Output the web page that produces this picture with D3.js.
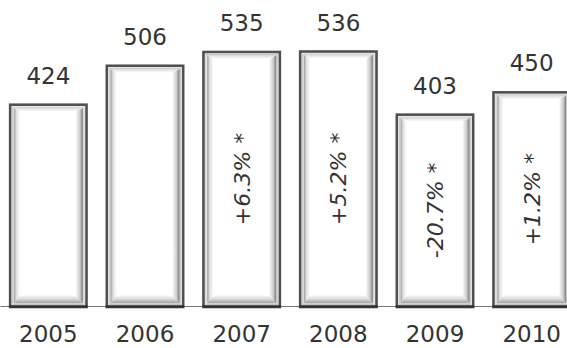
<!DOCTYPE html>
<html>
<head>
<meta charset="utf-8">
<script src="https://cdn.jsdelivr.net/npm/d3@7/dist/d3.min.js"></script>
<style>
  body { margin: 0; background: #fff; }
  svg { display: block; }
  text { font-family: "DejaVu Sans", Verdana, sans-serif; fill: #333; }
</style>
</head>
<body>
<script>
const years = ["2005", "2006", "2007", "2008", "2009", "2010"];
const values = [424, 506, 535, 536, 403, 450];
const changes = ["", "", "+6.3% *", "+5.2% *", "-20.7% *", "+1.2% *"];

const width = 567;
const height = 348;
const baseline = 306;
const fontSize = "23px";

const x = d3.scaleBand()
    .domain(years)
    .range([0, 580])
    .paddingInner(0.21)
    .paddingOuter(0.105);

const y = d3.scaleLinear()
    .domain([0, 535])
    .range([baseline, 52]);

const svg = d3.select("body").append("svg")
    .attr("width", width)
    .attr("height", height);

const defs = svg.append("defs");

function gradient(id, x2, y2, stops) {
    const g = defs.append("linearGradient")
        .attr("id", id)
        .attr("x1", 0).attr("y1", 0)
        .attr("x2", x2).attr("y2", y2);
    stops.forEach(s => g.append("stop")
        .attr("offset", s[0])
        .attr("stop-color", s[1]));
}
gradient("bev-left", 1, 0, [[0, "#ececec"], [0.18, "#a8a8a8"], [0.45, "#dedede"], [1, "#ffffff"]]);
gradient("bev-right", 1, 0, [[0, "#ffffff"], [0.55, "#cccccc"], [0.85, "#878787"], [1, "#dcdcdc"]]);
gradient("bev-bottom", 0, 1, [[0, "#ffffff"], [0.5, "#d4d4d4"], [0.85, "#a6a6a6"], [1, "#ececec"]]);
gradient("bev-top", 0, 1, [[0, "#d8d8d8"], [1, "#ffffff"]]);

// baseline / year labels
const axis = svg.append("g")
    .attr("transform", `translate(0, ${baseline})`)
    .call(d3.axisBottom(x).tickSize(0).tickPadding(20))
    ;
axis.select(".domain").attr("stroke", "#777");
axis.selectAll("text")
    .style("font-size", fontSize)
    .style("font-family", "'DejaVu Sans', Verdana, sans-serif")
    .attr("fill", "#333");

const bars = svg.selectAll(".bar")
    .data(years.map((d, i) => ({ year: d, value: values[i], change: changes[i] })))
    .enter().append("g")
    .attr("class", "bar");

const bottom = baseline + 1;
const ins = 3;
const bl = 7, br = 8, bb = 9, bt = 4;

bars.each(function(d) {
    const g = d3.select(this);
    const x0 = x(d.year);
    const w = x.bandwidth();
    const y0 = y(d.value);
    const L = x0 + ins, R = x0 + w - ins, T = y0 + ins, B = bottom - ins;

    g.append("rect")
        .attr("x", x0).attr("y", y0)
        .attr("width", w).attr("height", bottom - y0)
        .attr("fill", "#ffffff")
        .attr("stroke", "#505050")
        .attr("stroke-width", 2.6);

    const poly = (pts, fill) => g.append("polygon")
        .attr("points", pts.map(p => p.join(",")).join(" "))
        .attr("fill", fill);

    poly([[L, T], [R, T], [R - br, T + bt], [L + bl, T + bt]], "url(#bev-top)");
    poly([[L, T], [L + bl, T + bt], [L + bl, B - bb], [L, B]], "url(#bev-left)");
    poly([[R, T], [R, B], [R - br, B - bb], [R - br, T + bt]], "url(#bev-right)");
    poly([[L, B], [L + bl, B - bb], [R - br, B - bb], [R, B]], "url(#bev-bottom)");

    g.append("rect")
        .attr("x", L - 0.5).attr("y", T - 0.5)
        .attr("width", R - L + 1).attr("height", B - T + 1)
        .attr("fill", "none")
        .attr("stroke", "#c4c4c4")
        .attr("stroke-width", 1);

    g.append("line")
        .attr("x1", x0 - 1).attr("x2", x0 + w + 1)
        .attr("y1", bottom - 0.5).attr("y2", bottom - 0.5)
        .attr("stroke", "#303030")
        .attr("stroke-width", 2.5);
});

// value labels
bars.append("text")
    .attr("x", d => x(d.year) + x.bandwidth() / 2)
    .attr("y", d => y(d.value) - 21)
    .attr("text-anchor", "middle")
    .style("font-size", fontSize)
    .text(d => d.value);

// change labels, rotated
bars.filter(d => d.change !== "")
    .append("text")
    .attr("transform", d => {
        const cx = x(d.year) + x.bandwidth() / 2;
        const cy = (y(d.value) + baseline) / 2;
        return `translate(${cx}, ${cy}) rotate(-90)`;
    })
    .attr("text-anchor", "middle")
    .attr("dy", "0.36em")
    .style("font-size", "22px")
    .style("font-style", "italic")
    .text(d => d.change);
</script>
</body>
</html>
